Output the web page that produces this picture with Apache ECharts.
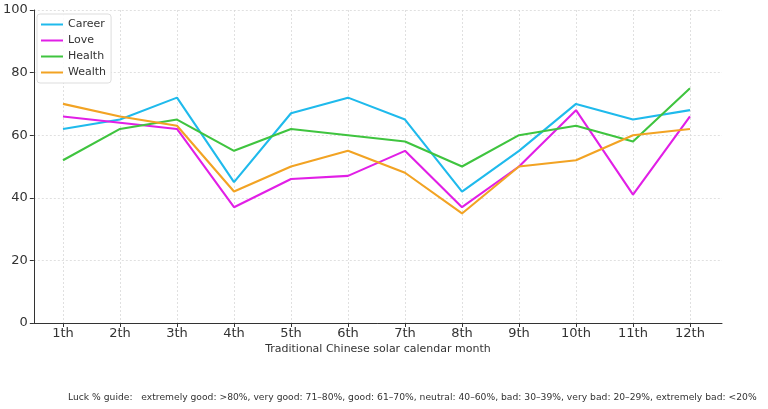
<!DOCTYPE html>
<html><head><meta charset="utf-8">
<script src="https://cdn.jsdelivr.net/npm/echarts@6/dist/echarts.min.js"></script>
<style>html,body{margin:0;padding:0;background:#fff}#c{width:768px;height:409px}</style>
</head><body><div id="c"></div>
<script>
const categories = ['1th','2th','3th','4th','5th','6th','7th','8th','9th','10th','11th','12th'];
const career = [62, 65, 72, 45, 67, 72, 65, 42, 55, 70, 65, 68];
const love   = [66, 64, 62, 37, 46, 47, 55, 37, 50, 68, 41, 66];
const health = [52, 62, 65, 55, 62, 60, 58, 50, 60, 63, 58, 75];
const wealth = [70, 66, 63, 42, 50, 55, 48, 35, 50, 52, 60, 62];
const yTicks = [0, 20, 40, 60, 80, 100];
const footnote = 'Luck % guide:   extremely good: >80%, very good: 71\u201380%, good: 61\u201370%, neutral: 40\u201360%, bad: 30\u201339%, very bad: 20\u201329%, extremely bad: <20%';

const colors = ['#1fbaec', '#e11fe6', '#3fc43f', '#f2a323'];
const names = ['Career', 'Love', 'Health', 'Wealth'];
const data = [career, love, health, wealth];
const font = 'DejaVu Sans';
const grid = { color: '#d8d8d8', type: [2, 2], width: 0.8 };

const chart = echarts.init(document.getElementById('c'));
chart.setOption({
  animation: false,
  textStyle: { fontFamily: font },
  grid: [
    { left: 33, right: 46, top: 10, bottom: 86 },
    { left: 63, right: 78, top: 10, bottom: 86 }
  ],
  legend: {
    orient: 'vertical', left: 37, top: 14,
    data: names,
    icon: 'rect', itemWidth: 22, itemHeight: 2, itemGap: 5,
    padding: [5, 5, 5, 4],
    borderColor: '#dddddd', borderWidth: 1, borderRadius: 3,
    backgroundColor: 'rgba(255,255,255,0.85)',
    textStyle: { fontFamily: font, fontSize: 11, color: '#333' }
  },
  xAxis: [{
    gridIndex: 0, type: 'value', min: 0, max: 1,
    name: 'Traditional Chinese solar calendar month',
    nameLocation: 'middle', nameGap: 21,
    nameTextStyle: { fontFamily: font, fontSize: 11, color: '#333' },
    axisLine: { show: true, onZero: false, lineStyle: { color: '#333', width: 1 } },
    axisTick: { show: false }, axisLabel: { show: false }, splitLine: { show: false }
  }, {
    gridIndex: 1, type: 'category', data: categories, boundaryGap: false,
    axisLine: { show: false },
    axisTick: { show: true, length: 4, lineStyle: { color: '#333' } },
    axisLabel: { fontFamily: font, fontSize: 13, color: '#333', margin: 4 },
    splitLine: { show: true, lineStyle: grid }
  }],
  yAxis: [{
    gridIndex: 0, type: 'value', min: 0, max: 100, interval: 20,
    axisLine: { show: true, lineStyle: { color: '#333', width: 1 } },
    axisTick: { show: true, length: 4, lineStyle: { color: '#333' } },
    axisLabel: { fontFamily: font, fontSize: 13, color: '#333', margin: 6,
      formatter: v => yTicks.includes(v) ? String(v) : '' },
    splitLine: { show: true, lineStyle: grid }
  }, {
    gridIndex: 1, type: 'value', min: 0, max: 100, interval: 20,
    axisLine: { show: false }, axisTick: { show: false },
    axisLabel: { show: false }, splitLine: { show: false }
  }],
  graphic: [{
    type: 'text', left: 68, top: 393,
    style: { text: footnote, fontFamily: font, fontSize: 9.2, fill: '#333' }
  }],
  series: names.map((n, i) => ({
    name: n, type: 'line', data: data[i], xAxisIndex: 1, yAxisIndex: 1,
    showSymbol: false, symbol: 'none',
    lineStyle: { color: colors[i], width: 2.1 },
    itemStyle: { color: colors[i] }
  }))
});
</script></body></html>
